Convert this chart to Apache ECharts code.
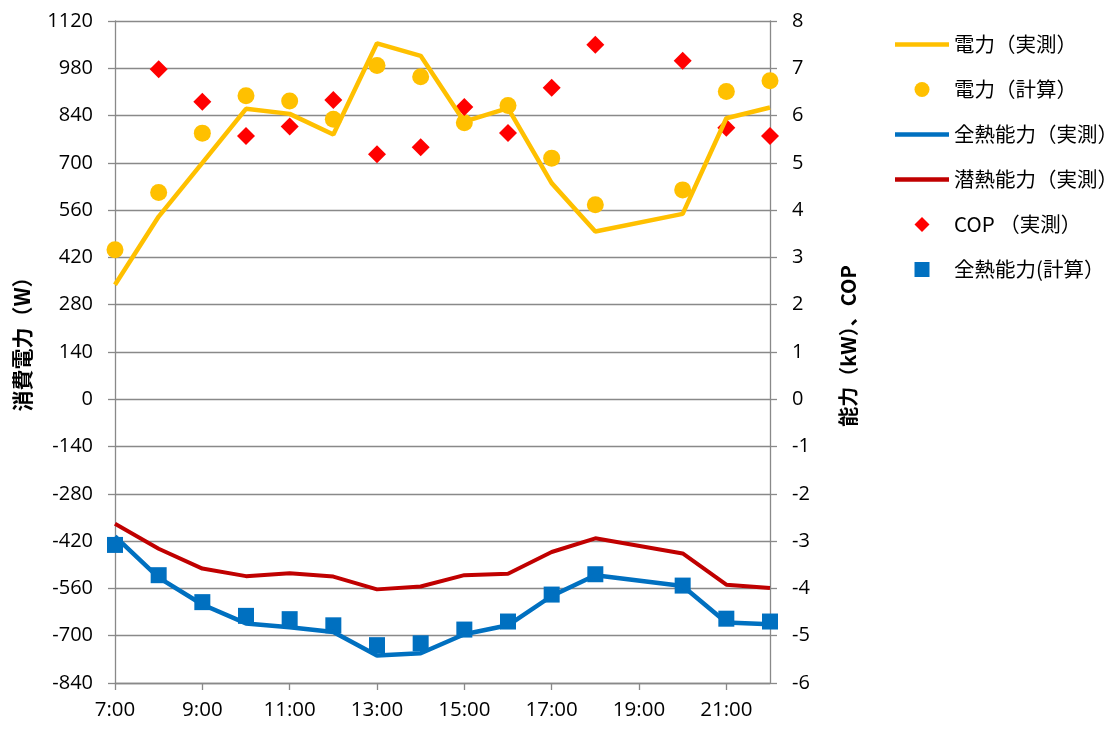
<!DOCTYPE html>
<html><head><meta charset="utf-8">
<script src="https://cdn.jsdelivr.net/npm/echarts@6/dist/echarts.min.js"></script>
<style>html,body{margin:0;padding:0;background:#fff}#c{width:1120px;height:731px}</style>
</head><body><div id="c"></div>
<script>
const hours = ['7:00','8:00','9:00','10:00','11:00','12:00','13:00','14:00','15:00','16:00','17:00','18:00','19:00','20:00','21:00','22:00'];
const leftTicks = [-840, 1120, 140];
const rightTicks = [-6, 8, 1];
const powerMeasured = [339, 541, 700, 860, 845, 784, 1054, 1017, 822, 862, 640, 497, null, 549, 832, 864];
const powerCalc = [443, 612, 788, 899, 883, 829, 988, 955, 819, 870, 714, 576, null, 620, 911, 943];
const totalMeasured = [-2.90, -3.77, -4.34, -4.74, -4.82, -4.92, -5.42, -5.37, -4.97, -4.78, -4.16, -3.72, null, -3.95, -4.72, -4.76];
const latentMeasured = [-2.63, -3.16, -3.58, -3.74, -3.68, -3.75, -4.02, -3.96, -3.72, -3.69, -3.23, -2.94, null, -3.26, -3.92, -3.99];
const copMeasured = [null, 6.98, 6.29, 5.57, 5.77, 6.33, 5.18, 5.33, 6.18, 5.63, 6.59, 7.50, null, 7.16, 5.74, 5.57];
const totalCalc = [-3.08, -3.72, -4.29, -4.58, -4.65, -4.78, -5.20, -5.16, -4.87, -4.70, -4.13, -3.70, null, -3.94, -4.64, -4.70];
const names = ['電力（実測）','電力（計算）','全熱能力（実測）','潜熱能力（実測）','COP （実測）','全熱能力(計算）'];

const gray = '#898989';
const lineIcon = 'path://M0,0H54V4.5H0Z';
const tickFont = {fontFamily: 'Open Sans', fontSize: 20, color: '#000', formatter: v => String(v)};
const chart = echarts.init(document.getElementById('c'), null, {renderer: 'canvas'});
chart.setOption({
  animation: false,
  backgroundColor: '#fff',
  grid: {left: 115, right: 350, top: 21, bottom: 48, containLabel: false},
  legend: {
    orient: 'vertical', left: 890, top: 27,
    itemWidth: 54, itemHeight: 15, itemGap: 20, itemTextGap: 3,
    symbolKeepAspect: true,
    textStyle: {fontFamily: 'Noto Sans CJK JP', fontSize: 20.5, color: '#000', lineHeight: 25},
    data: [
      {name: names[0], icon: lineIcon},
      {name: names[1], icon: 'circle'},
      {name: names[2], icon: lineIcon},
      {name: names[3], icon: lineIcon},
      {name: names[4], icon: 'path://M0,-1L1,0L0,1L-1,0Z'},
      {name: names[5], icon: 'path://M0,0H1V1H0Z'}
    ]
  },
  xAxis: {
    type: 'category', data: hours, boundaryGap: false,
    axisLine: {onZero: false, lineStyle: {color: gray, width: 1.3}},
    axisTick: {show: true, interval: 1, length: 7, lineStyle: {color: gray, width: 1.3}},
    axisLabel: {interval: 1, margin: 17, fontSize: 20.5, fontFamily: 'Open Sans', color: '#000'},
    splitLine: {show: false}
  },
  yAxis: [{
    type: 'value', min: leftTicks[0], max: leftTicks[1], interval: leftTicks[2],
    name: '消費電力（W）', nameLocation: 'middle', nameGap: 82, nameRotate: 90,
    nameTextStyle: {fontFamily: 'Noto Sans CJK JP', fontSize: 21, fontWeight: 'bold', color: '#000', padding: [0, 0, 0, 26]},
    axisLine: {show: true, lineStyle: {color: gray, width: 1.3}},
    axisTick: {show: true, length: 7, lineStyle: {color: gray, width: 1.3}},
    axisLabel: Object.assign({margin: 22}, tickFont),
    splitLine: {show: true, lineStyle: {color: gray, width: 1.3}}
  }, {
    type: 'value', min: rightTicks[0], max: rightTicks[1], interval: rightTicks[2], position: 'right',
    name: '能力（kW）、COP', nameLocation: 'middle', nameGap: 68, nameRotate: 90,
    nameTextStyle: {fontFamily: 'Noto Sans CJK JP', fontSize: 20, fontWeight: 'bold', color: '#000', padding: [0, 0, 0, 12]},
    axisLine: {show: true, lineStyle: {color: gray, width: 1.3}},
    axisTick: {show: true, length: 7, lineStyle: {color: gray, width: 1.3}},
    axisLabel: Object.assign({margin: 22}, tickFont),
    splitLine: {show: false}
  }],
  series: [
    {name: names[0], type: 'line', yAxisIndex: 0, data: powerMeasured, connectNulls: true, symbol: 'none',
     lineStyle: {color: '#FFC000', width: 4.5}, itemStyle: {color: '#FFC000'}},
    {name: names[1], type: 'scatter', yAxisIndex: 0, data: powerCalc, symbol: 'circle', symbolSize: 17,
     itemStyle: {color: '#FFC000', opacity: 1}},
    {name: names[2], type: 'line', yAxisIndex: 1, data: totalMeasured, connectNulls: true, symbol: 'none',
     lineStyle: {color: '#0070C0', width: 4.5}, itemStyle: {color: '#0070C0'}},
    {name: names[3], type: 'line', yAxisIndex: 1, data: latentMeasured, connectNulls: true, symbol: 'none',
     lineStyle: {color: '#C00000', width: 4}, itemStyle: {color: '#C00000'}},
    {name: names[4], type: 'scatter', yAxisIndex: 1, data: copMeasured, symbol: 'diamond', symbolSize: 18,
     itemStyle: {color: '#FF0000', opacity: 1}},
    {name: names[5], type: 'scatter', yAxisIndex: 1, data: totalCalc, symbol: 'rect', symbolSize: 16,
     itemStyle: {color: '#0070C0', opacity: 1}}
  ]
});
</script></body></html>
